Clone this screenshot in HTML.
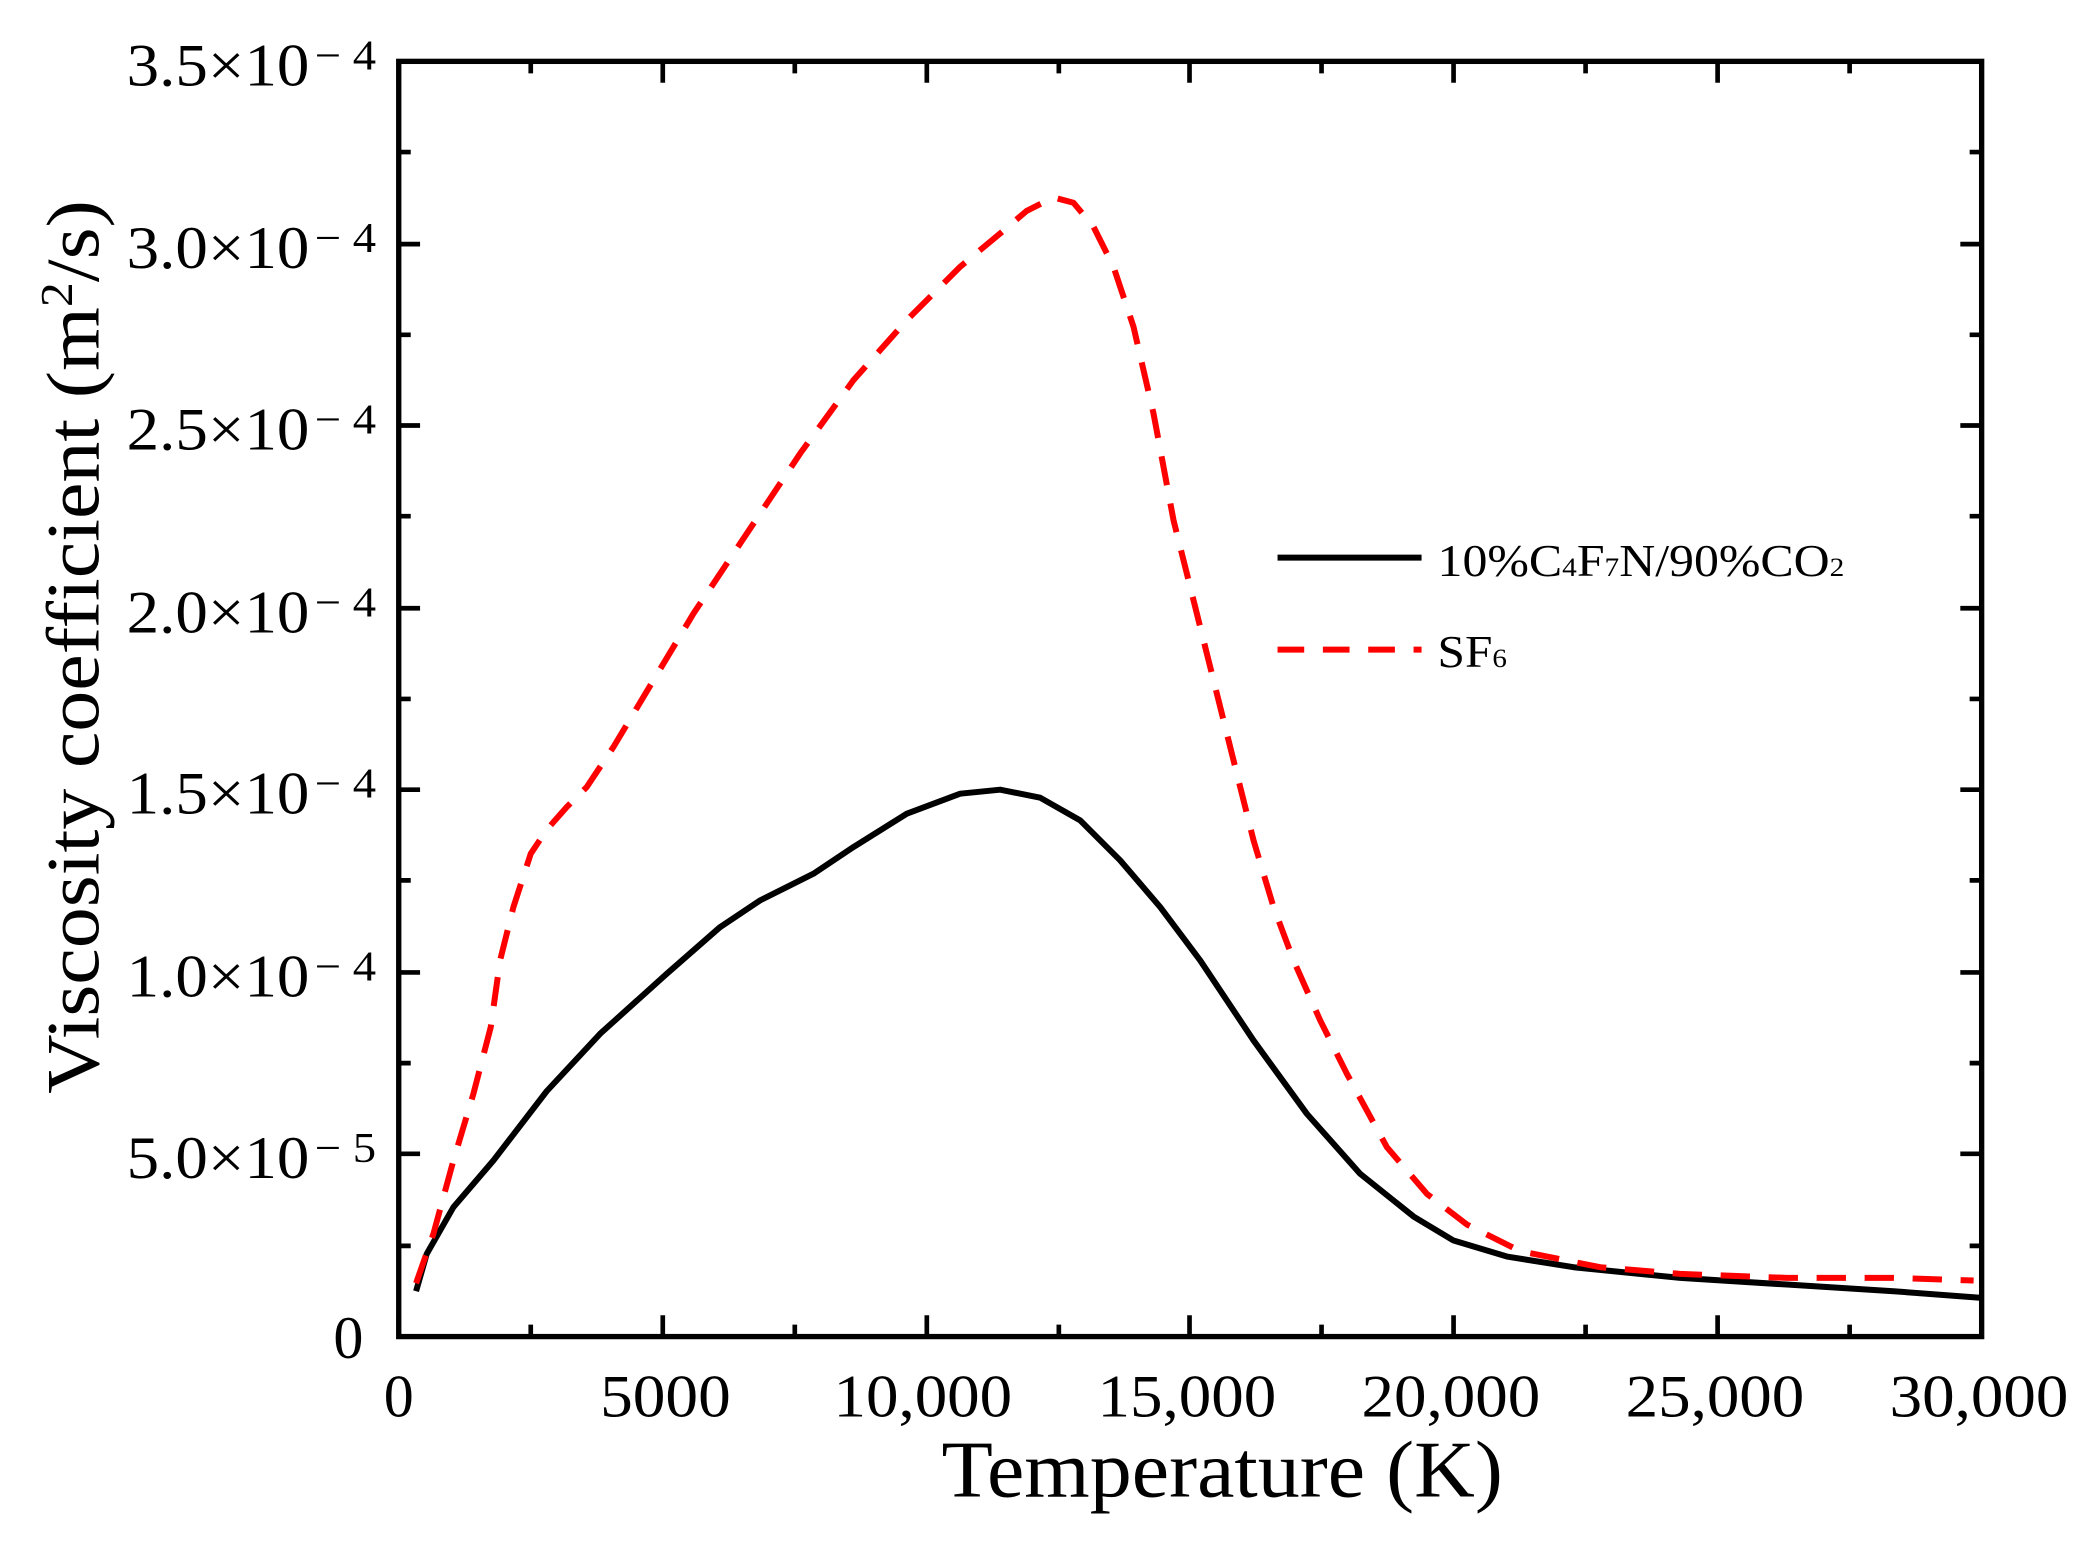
<!DOCTYPE html>
<html><head><style>body{margin:0;background:#fff}svg{display:block}</style></head><body>
<svg width="2091" height="1542" viewBox="0 0 1568 1156" preserveAspectRatio="none" xmlns="http://www.w3.org/2000/svg" font-family="'Liberation Serif', serif">
<rect width="1568" height="1156" fill="#fff"/>
<g stroke="#000" stroke-width="3.5">
<path d="M299 1002v-16M497 1002v-16M695 1002v-16M892 1002v-16M1090 1002v-16M1288 1002v-16M1486 1002v-16
M398 1002v-9M596 1002v-9M794 1002v-9M991 1002v-9M1189 1002v-9M1387 1002v-9
M299 46v16M497 46v16M695 46v16M892 46v16M1090 46v16M1288 46v16M1486 46v16
M398 46v9M596 46v9M794 46v9M991 46v9M1189 46v9M1387 46v9"/>
<path d="M299 865h16M299 729h16M299 592h16M299 456h16M299 319h16M299 183h16
M299 934h9M299 797h9M299 660h9M299 524h9M299 387h9M299 251h9M299 114h9
M1486 865h-16M1486 729h-16M1486 592h-16M1486 456h-16M1486 319h-16M1486 183h-16
M1486 934h-9M1486 797h-9M1486 660h-9M1486 524h-9M1486 387h-9M1486 251h-9M1486 114h-9"/>
</g>
<polyline fill="none" stroke="#000" stroke-width="4.5" stroke-linejoin="round" points="312,968 320,940 340,905 370,870 410,818 450,775 500,730 540,695 570,675 610,655 640,635 680,610 720,595 750,592 780,598 810,615 840,645 870,680 900,720 940,780 980,835 1020,880 1060,912 1090,930 1130,942 1180,950 1260,958 1340,963 1420,968 1486,973"/>
<polyline fill="none" stroke="#f00" stroke-width="4.5" stroke-dasharray="22,14" stroke-linejoin="round" points="312,962 325,925 340,870 355,820 368,770 375,720 385,680 398,640 410,622 425,605 440,590 460,560 490,510 520,460 560,400 600,340 640,285 680,240 720,200 750,175 770,158 790,148 805,152 820,170 835,200 850,245 865,310 880,390 895,450 910,510 925,570 940,630 955,680 970,720 990,765 1010,805 1040,860 1070,895 1100,918 1140,938 1200,950 1260,955 1340,958 1420,958 1480,960"/>
<rect x="299" y="46" width="1187" height="956" fill="none" stroke="#000" stroke-width="4"/>
<line x1="958" y1="418" x2="1066" y2="418" stroke="#000" stroke-width="4.5"/>
<line x1="958" y1="487" x2="1066" y2="487" stroke="#f00" stroke-width="4.5" stroke-dasharray="20,14"/>
<text x="1078" y="432" font-size="34" textLength="305" lengthAdjust="spacingAndGlyphs">10%C<tspan font-size="20">4</tspan>F<tspan font-size="20">7</tspan>N/90%CO<tspan font-size="20">2</tspan></text>
<text x="1078" y="500" font-size="34" textLength="52" lengthAdjust="spacingAndGlyphs">SF<tspan font-size="20">6</tspan></text>
<g font-size="45">
<text x="95" y="64" textLength="137" lengthAdjust="spacingAndGlyphs">3.5×10</text>
<text x="95" y="201" textLength="137" lengthAdjust="spacingAndGlyphs">3.0×10</text>
<text x="95" y="337" textLength="137" lengthAdjust="spacingAndGlyphs">2.5×10</text>
<text x="95" y="474" textLength="137" lengthAdjust="spacingAndGlyphs">2.0×10</text>
<text x="95" y="610" textLength="137" lengthAdjust="spacingAndGlyphs">1.5×10</text>
<text x="95" y="747" textLength="137" lengthAdjust="spacingAndGlyphs">1.0×10</text>
<text x="95" y="883" textLength="137" lengthAdjust="spacingAndGlyphs">5.0×10</text>
<text x="250" y="1018">0</text>
</g>
<g font-size="32">
<text x="236" y="52" textLength="46" lengthAdjust="spacingAndGlyphs">− 4</text>
<text x="236" y="189" textLength="46" lengthAdjust="spacingAndGlyphs">− 4</text>
<text x="236" y="325" textLength="46" lengthAdjust="spacingAndGlyphs">− 4</text>
<text x="236" y="462" textLength="46" lengthAdjust="spacingAndGlyphs">− 4</text>
<text x="236" y="598" textLength="46" lengthAdjust="spacingAndGlyphs">− 4</text>
<text x="236" y="735" textLength="46" lengthAdjust="spacingAndGlyphs">− 4</text>
<text x="236" y="871" textLength="46" lengthAdjust="spacingAndGlyphs">− 5</text>
</g>
<g font-size="45" text-anchor="middle">
<text x="299" y="1062">0</text>
<text x="499" y="1062" textLength="98" lengthAdjust="spacingAndGlyphs">5000</text>
<text x="692" y="1062" textLength="134" lengthAdjust="spacingAndGlyphs">10,000</text>
<text x="890" y="1062" textLength="134" lengthAdjust="spacingAndGlyphs">15,000</text>
<text x="1088" y="1062" textLength="134" lengthAdjust="spacingAndGlyphs">20,000</text>
<text x="1286" y="1062" textLength="134" lengthAdjust="spacingAndGlyphs">25,000</text>
<text x="1484" y="1062" textLength="134" lengthAdjust="spacingAndGlyphs">30,000</text>
</g>
<text x="706" y="1122" font-size="60" textLength="421" lengthAdjust="spacingAndGlyphs">Temperature (K)</text>
<text transform="translate(74,820) rotate(-90)" font-size="56" textLength="670" lengthAdjust="spacingAndGlyphs">Viscosity coefficient (m<tspan font-size="34" dy="-20">2</tspan><tspan dy="20">/s)</tspan></text>
</svg>
</body></html>
